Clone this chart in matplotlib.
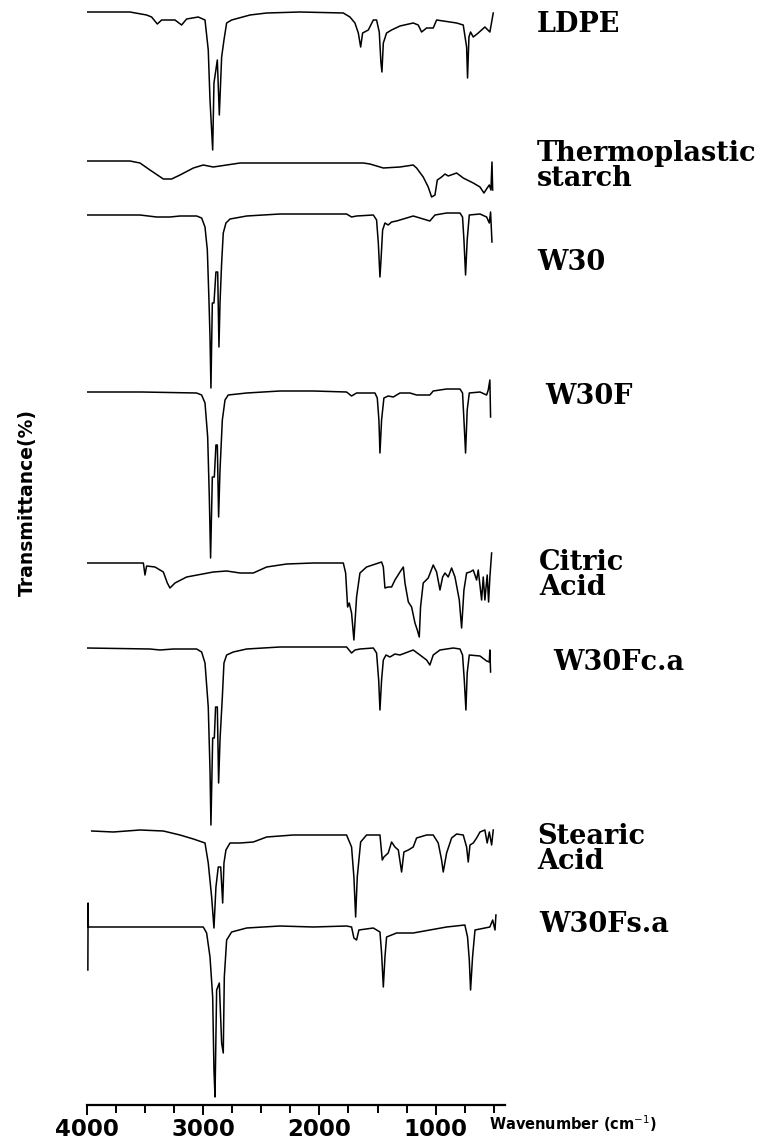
import matplotlib
matplotlib.use("Agg")
import matplotlib.pyplot as plt

# FTIR spectra (arbitrary stacked transmittance units)
ldpe_wn = [4000, 3628, 3485, 3442, 3393, 3356, 3241, 3184, 3141, 3041, 2983, 2955, 2940, 2917,
           2906, 2877, 2860, 2840, 2820, 2797, 2754, 2596, 2453, 2167, 1794, 1737, 1694, 1665,
           1645, 1628, 1579, 1536, 1508, 1485, 1471, 1462, 1450, 1422, 1379, 1307, 1193, 1150,
           1121, 1078, 1021, 992, 820, 763, 734, 726, 714, 700, 677, 634, 577, 534, 505]
ldpe_t = [1093, 1093, 1090, 1088, 1081, 1085, 1085, 1080, 1086, 1088, 1085, 1055, 1005, 955,
          1022, 1045, 990, 1048, 1065, 1082, 1085, 1090, 1092, 1093, 1092, 1088, 1082, 1072,
          1058, 1072, 1075, 1085, 1085, 1073, 1043, 1033, 1062, 1072, 1075, 1079, 1082, 1080,
          1073, 1077, 1077, 1085, 1082, 1080, 1058, 1027, 1068, 1073, 1068, 1072, 1078, 1073, 1092]

tps_wn = [4000, 3714, 3628, 3542, 3456, 3341, 3270, 3198, 3083, 2998, 2912, 2854, 2682, 2339,
          1995, 1622, 1565, 1450, 1307, 1193, 1164, 1107, 1064, 1035, 1006, 986, 949, 920,
          892, 820, 763, 677, 619, 585, 557, 539, 525, 516, 510]
tps_t = [944, 944, 944, 942, 935, 926, 926, 930, 937, 940, 938, 939, 942, 942,
         942, 942, 941, 937, 938, 940, 937, 928, 918, 908, 910, 925, 928, 931,
         929, 932, 927, 922, 918, 912, 917, 920, 915, 943, 915]

w30_wn = [4000, 3542, 3399, 3284, 3198, 3055, 3012, 2983, 2963, 2949, 2940, 2932, 2920, 2906,
          2889, 2874, 2863, 2854, 2840, 2826, 2803, 2768, 2625, 2339, 2052, 1766, 1723, 1680,
          1536, 1508, 1493, 1479, 1470, 1456, 1436, 1408, 1379, 1336, 1193, 1135, 1050, 1006,
          906, 791, 769, 757, 743, 729, 711, 619, 562, 539, 528, 516]
w30_t = [890, 890, 888, 888, 889, 889, 887, 878, 855, 805, 768, 717, 802, 802,
         833, 833, 758, 802, 842, 872, 882, 886, 889, 891, 891, 891, 888, 889,
         890, 885, 862, 828, 845, 875, 882, 880, 883, 884, 889, 887, 884, 890,
         892, 892, 888, 865, 830, 865, 890, 891, 888, 882, 893, 863]

w30f_wn = [4000, 3528, 3055, 3012, 2983, 2960, 2946, 2935, 2920, 2903, 2889, 2877, 2866, 2854,
           2834, 2811, 2783, 2625, 2339, 2052, 1766, 1723, 1680, 1522, 1502, 1488, 1479, 1465,
           1445, 1408, 1364, 1307, 1221, 1164, 1050, 1021, 906, 791, 769, 757, 743, 729,
           711, 619, 562, 548, 534, 528]
w30f_t = [713, 713, 712, 710, 702, 668, 608, 547, 628, 628, 660, 660, 588, 635,
          685, 705, 710, 712, 714, 714, 713, 709, 712, 712, 707, 685, 652, 685,
          707, 709, 708, 712, 712, 710, 710, 714, 716, 716, 712, 685, 652, 695,
          712, 713, 710, 715, 725, 688]

citric_wn = [4000, 3513, 3499, 3485, 3413, 3341, 3307, 3284, 3241, 3141, 2912, 2797, 2682, 2625,
             2568, 2453, 2281, 2052, 1794, 1774, 1757, 1743, 1723, 1703, 1680, 1651, 1594, 1465,
             1450, 1436, 1408, 1379, 1350, 1307, 1278, 1264, 1235, 1207, 1178, 1158, 1141, 1130,
             1107, 1064, 1021, 992, 963, 940, 920, 892, 863, 834, 797, 777, 757, 734,
             705, 677, 648, 634, 605, 591, 577, 557, 545, 534, 519]
citric_t = [542, 542, 530, 539, 538, 533, 522, 517, 522, 528, 533, 534, 532, 532,
            532, 538, 541, 542, 542, 532, 498, 502, 492, 465, 508, 532, 538, 543,
            538, 517, 518, 518, 525, 533, 538, 522, 503, 498, 482, 475, 468, 498,
            522, 527, 540, 533, 515, 528, 532, 528, 537, 528, 505, 477, 515, 532,
            533, 535, 525, 535, 505, 528, 505, 530, 503, 528, 552]

w30fca_wn = [4000, 3456, 3370, 3255, 3055, 3012, 2983, 2955, 2940, 2932, 2917, 2903, 2892, 2877,
             2866, 2854, 2834, 2820, 2797, 2740, 2625, 2339, 2052, 1766, 1723, 1694, 1651, 1536,
             1508, 1490, 1479, 1465, 1450, 1427, 1393, 1350, 1307, 1193, 1135, 1078, 1050, 1021,
             963, 849, 791, 769, 754, 740, 729, 711, 619, 562, 539, 534, 528]
w30fca_t = [457, 456, 455, 456, 456, 453, 442, 398, 335, 280, 367, 367, 398, 398,
            322, 365, 408, 442, 450, 453, 456, 458, 458, 458, 452, 455, 456, 457,
            452, 425, 395, 425, 445, 450, 448, 451, 450, 455, 450, 445, 440, 450,
            455, 457, 456, 450, 425, 395, 432, 450, 449, 444, 443, 455, 433]

stearic_wn = [3957, 3771, 3542, 3341, 3198, 3083, 2983, 2955, 2926, 2906, 2889, 2869, 2848, 2831,
              2820, 2803, 2768, 2682, 2568, 2453, 2224, 1766, 1723, 1703, 1688, 1674, 1645, 1594,
              1479, 1459, 1445, 1408, 1379, 1350, 1321, 1293, 1273, 1235, 1193, 1164, 1078, 1021,
              978, 949, 935, 906, 863, 820, 763, 734, 720, 705, 677, 648, 619, 577,
              557, 539, 519, 505]
stearic_t = [274, 273, 275, 274, 270, 266, 262, 242, 208, 177, 218, 238, 238, 202,
             242, 255, 262, 262, 263, 268, 270, 270, 258, 228, 188, 228, 263, 270,
             270, 245, 248, 252, 263, 258, 255, 233, 253, 255, 258, 267, 270, 270,
             262, 245, 233, 252, 267, 271, 270, 258, 243, 260, 262, 267, 273, 275,
             262, 273, 260, 275]

w30fsa_wn = [3990, 3988, 3986, 3714, 3485, 3198, 2998, 2969, 2940, 2917, 2906, 2897, 2883, 2860,
             2840, 2826, 2817, 2797, 2754, 2625, 2339, 2052, 1766, 1723, 1703, 1680, 1660, 1536,
             1479, 1465, 1450, 1436, 1422, 1379, 1336, 1193, 1050, 906, 749, 726, 711, 700,
             683, 662, 534, 510, 490, 482]
w30fsa_t = [135, 202, 178, 178, 178, 178, 178, 172, 148, 108, 35, 8, 115, 122,
            62, 52, 128, 165, 173, 177, 179, 178, 179, 178, 167, 165, 175, 177,
            173, 152, 118, 148, 168, 170, 172, 172, 175, 178, 180, 168, 145, 115,
            148, 175, 178, 185, 175, 190]

spectra = [(ldpe_wn, ldpe_t), (tps_wn, tps_t), (w30_wn, w30_t), (w30f_wn, w30f_t),
           (citric_wn, citric_t), (w30fca_wn, w30fca_t), (stearic_wn, stearic_t),
           (w30fsa_wn, w30fsa_t)]

labels = ["LDPE", "Thermoplastic\nstarch", "W30", "W30F", "Citric\nAcid", "W30Fc.a",
          "Stearic\nAcid", "W30Fs.a"]
x_ticks = [4000, 3000, 2000, 1000]

W, H = 776, 1140
fig = plt.figure(figsize=(W / 100, H / 100), dpi=100)
ax = fig.add_axes([86.7 / W, 35 / H, (505 - 86.7) / W, 1105 / H])

for wn, t in spectra:
    ax.plot(wn, t, color="black", lw=1.1)

ax.set_xlim(4000, 404)
ax.set_ylim(0, 1105)
ax.set_yticks([])
for s in ["top", "left", "right"]:
    ax.spines[s].set_visible(False)
ax.spines["bottom"].set_linewidth(1.6)
ax.set_xticks(x_ticks)
ax.set_xticks([3750, 3500, 3250, 2750, 2500, 2250, 1750, 1500, 1250, 750, 500], minor=True)
ax.tick_params(axis="x", which="major", length=7, width=1.4, pad=2)
ax.tick_params(axis="x", which="minor", length=6, width=1.4)
for lab in ax.get_xticklabels():
    lab.set_fontfamily("DejaVu Sans")
    lab.set_fontweight("bold")
    lab.set_fontsize(16.5)

# sample names on the right
label_pos = [(537, 25), (537, 166), (537, 262), (545, 396), (539, 575), (553, 662),
             (537, 849), (539, 924)]
for name, (px, py) in zip(labels, label_pos):
    fig.text(px / W, 1 - py / H, name, ha="left", va="center", family="DejaVu Serif",
             fontweight="bold", fontsize=19.5, linespacing=0.95)

fig.text(27 / W, 1 - 502 / H, "Transmittance(%)", rotation=90, ha="center", va="center",
         family="DejaVu Sans", fontweight="bold", fontsize=13.5)
fig.text(489 / W, 1 - 1124 / H, "Wavenumber (cm$^{-1}$)", ha="left", va="center",
         family="DejaVu Sans", fontweight="bold", fontsize=10.5)

fig.savefig("out.png", dpi=100)
